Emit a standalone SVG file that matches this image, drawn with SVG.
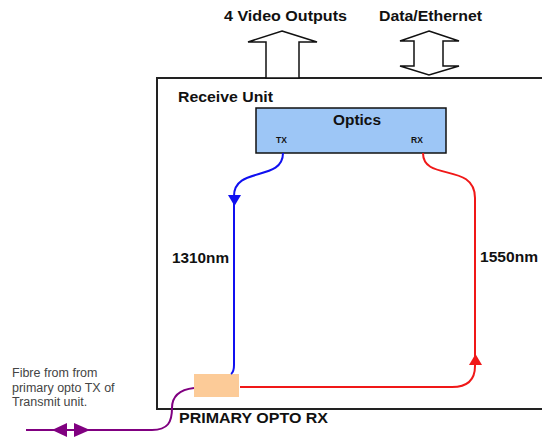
<svg xmlns="http://www.w3.org/2000/svg" width="542" height="438" viewBox="0 0 542 438">
<style>
.b{font-family:"Liberation Sans",Arial,sans-serif;font-weight:bold;fill:#111}
.n{font-family:"Liberation Sans",Arial,sans-serif;fill:#444}
.fibre{fill:none;stroke-width:2}
.outline{fill:#fff;stroke:#111;stroke-width:1.5;stroke-linejoin:miter}
</style>
<rect width="542" height="438" fill="#fff"/>
<g id="receive-unit">
<rect x="157" y="78" width="400" height="331" fill="none" stroke="#222" stroke-width="2"/>
<text class="b" x="178" y="102" font-size="14" textLength="95" lengthAdjust="spacingAndGlyphs">Receive Unit</text>
</g>
<g id="video-outputs">
<polygon class="outline" points="282,31 317,42 299,42 299,78 266,78 266,42 248,42"/>
<text class="b" x="224" y="21" font-size="14" textLength="123" lengthAdjust="spacingAndGlyphs">4 Video Outputs</text>
</g>
<g id="data-ethernet">
<polygon class="outline" points="429,31 459,41 443,41 443,66 459,66 429,75 400,66 414,66 414,41 400,41"/>
<text class="b" x="379" y="21" font-size="14" textLength="103" lengthAdjust="spacingAndGlyphs">Data/Ethernet</text>
</g>
<g id="optics">
<rect x="256" y="108" width="190" height="45" fill="#9DC6F6" stroke="#111" stroke-width="1.5"/>
<text class="b" x="357" y="125" font-size="14" text-anchor="middle" textLength="48" lengthAdjust="spacingAndGlyphs">Optics</text>
<text class="b" x="276" y="143" font-size="8.5">TX</text>
<text class="b" x="411" y="143" font-size="8.5">RX</text>
</g>
<g id="primary-opto-rx">
<rect x="194" y="374" width="45" height="23" fill="#FCCB98"/>
<text class="b" x="179" y="423" font-size="14" textLength="149" lengthAdjust="spacingAndGlyphs">PRIMARY OPTO RX</text>
</g>
<g id="fibre-note">
<text class="n" x="12" y="377" font-size="12.5">Fibre from from</text>
<text class="n" x="12" y="392" font-size="12.5">primary opto TX of</text>
<text class="n" x="12" y="406" font-size="12.5">Transmit unit.</text>
</g>
<g id="connectors">
<path class="fibre" stroke="#1010F0" d="M283,153 C283,182 234,166 234,196 L234,365 Q234,372 231,374"/>
<polygon fill="#1010F0" points="228,195 241,195 234.5,206"/>
<text class="b" x="172" y="263" font-size="14" textLength="57" lengthAdjust="spacingAndGlyphs">1310nm</text>
<path class="fibre" stroke="#F01818" d="M423,153 C423,182 475,162 475,198 L475,366 C475,380 468,387 452,387 L240,387"/>
<polygon fill="#F01818" points="469,365 482,365 475.5,354"/>
<text class="b" x="480" y="262" font-size="14" textLength="58" lengthAdjust="spacingAndGlyphs">1550nm</text>
<path class="fibre" stroke="#800080" d="M194,388 C177,390 172,398 172,408 C172,422 168,430 152,430 L26,430"/>
<polygon fill="#800080" points="52,430 67,423 67,437"/>
<polygon fill="#800080" points="90,430 74,423 74,437"/>
</g>
</svg>
